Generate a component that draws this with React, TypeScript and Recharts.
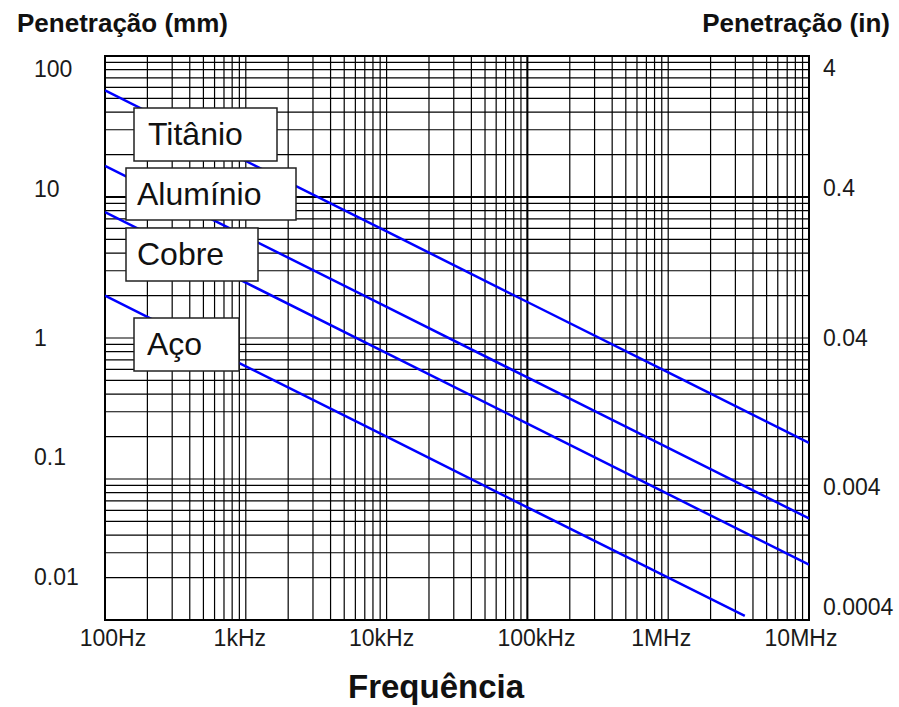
import React from "react";
import { LineChart, Line, XAxis, YAxis, CartesianGrid, ReferenceArea, ReferenceLine } from "recharts";

// depth of penetration (mm), per frequency (Hz)
const frequencies = [100, 1e3, 1e4, 1e5, 1e6, 1e7];
const titanio = [57, 18, 5.7, 1.8, 0.57, 0.18];
const aluminio = [16.6, 5.25, 1.66, 0.525, 0.166, 0.0525];
const cobre = [7.8, 2.47, 0.78, 0.247, 0.078, 0.0247];
// steel stops before 10MHz
const acoFrequencies = [100, 1e3, 1e4, 1e5, 1e6, 3.5e6];
const aco = [2.0, 0.63, 0.2, 0.063, 0.02, 0.0107];

const materials = ["Titânio", "Alumínio", "Cobre", "Aço"];

const xDecades = [100, 1e3, 1e4, 1e5, 1e6, 1e7];
const xTickLabels = ["100Hz", "1kHz", "10kHz", "100kHz", "1MHz", "10MHz"];
const mmDecades = [100, 10, 1, 0.1, 0.01];
const mmTickLabels = ["100", "10", "1", "0.1", "0.01"];
const inDecades = [4, 0.4, 0.04, 0.004, 0.0004];
const inTickLabels = ["4", "0.4", "0.04", "0.004", "0.0004"];

// layout tweaks (label offsets in px, as placed in the original figure)
const xNudge = [8, -6, -5, 9, -7, -8];
const mmNudge = [13, -8, 0, -22, -43];
const inNudge = [12, -9, 0, 8, -13];
const boxes = [
  { x: 134, y: 108, w: 143, h: 53, tx: 14 },
  { x: 126, y: 168, w: 170, h: 52, tx: 11 },
  { x: 126, y: 228, w: 132, h: 53, tx: 11 },
  { x: 134, y: 318, w: 105, h: 53, tx: 13 },
];

const FONT = '"Liberation Sans", Arial, Helvetica, sans-serif';
const TEXT = "#1a1a1a";
const BLUE = "#0000ff";
const GRID = "#000";

// log grid: 1..9 x 10^e for every decade
const logTicks = (from: number, to: number) => {
  const out: number[] = [];
  for (let e = from; e < to; e++) {
    for (let m = 1; m <= 9; m++) out.push(m * Math.pow(10, e));
  }
  out.push(Math.pow(10, to));
  return out;
};
const xTicks = logTicks(2, 7);
const mmTicks = logTicks(-2, 2);

const decadeIndex = (v: number, decades: number[]) =>
  decades.findIndex((d) => Math.abs(Math.log10(v) - Math.log10(d)) < 1e-6);

const toRows = (fs: number[], ds: number[]) => fs.map((f, i) => ({ f, d: ds[i] }));
const series = [
  toRows(frequencies, titanio),
  toRows(frequencies, aluminio),
  toRows(frequencies, cobre),
  toRows(acoFrequencies, aco),
];

const XTick = (props: any) => {
  const i = decadeIndex(props.payload.value, xDecades);
  if (i < 0) return <g />;
  return (
    <text x={props.x + xNudge[i]} y={646} textAnchor="middle" fontSize={23} fill={TEXT} fontFamily={FONT}>
      {xTickLabels[i]}
    </text>
  );
};

const MmTick = (props: any) => {
  const i = decadeIndex(props.payload.value, mmDecades);
  if (i < 0) return <g />;
  return (
    <text x={34} y={props.y + mmNudge[i] + 8} textAnchor="start" fontSize={23} fill={TEXT} fontFamily={FONT}>
      {mmTickLabels[i]}
    </text>
  );
};

const InTick = (props: any) => {
  const i = decadeIndex(props.payload.value, inDecades);
  if (i < 0) return <g />;
  return (
    <text x={823} y={props.y + inNudge[i] + 8} textAnchor="start" fontSize={23} fill={TEXT} fontFamily={FONT}>
      {inTickLabels[i]}
    </text>
  );
};

export default function App() {
  return (
    <div style={{ position: "absolute", left: 0, top: 0, width: 899, height: 707, background: "#fff", fontFamily: FONT }}>
      <LineChart width={899} height={707} margin={{ top: 56, right: 0, bottom: 57, left: 0 }}>
        <CartesianGrid stroke={GRID} strokeWidth={1.2} />
        <XAxis
          dataKey="f"
          type="number"
          scale="log"
          domain={[100, 1e7]}
          allowDataOverflow
          ticks={xTicks}
          interval={0}
          tick={(p: any) => <XTick {...p} />}
          tickLine={false}
          axisLine={false}
          height={30}
        />
        <YAxis
          type="number"
          scale="log"
          domain={[0.01, 100]}
          allowDataOverflow
          ticks={mmTicks}
          interval={0}
          tick={(p: any) => <MmTick {...p} />}
          tickLine={false}
          axisLine={false}
          width={105}
        />
        <YAxis
          yAxisId="in"
          orientation="right"
          type="number"
          scale="log"
          domain={[0.0004, 4]}
          allowDataOverflow
          ticks={inDecades}
          interval={0}
          tick={(p: any) => <InTick {...p} />}
          tickLine={false}
          axisLine={false}
          width={90}
        />
        <ReferenceLine x={1e5} stroke={GRID} strokeWidth={2} />
        <ReferenceLine y={10} stroke={GRID} strokeWidth={2} />
        <ReferenceArea x1={100} x2={1e7} y1={0.01} y2={100} fill="none" stroke={GRID} strokeWidth={2} />
        {series.map((rows, i) => (
          <Line
            key={materials[i]}
            data={rows}
            dataKey="d"
            name={materials[i]}
            type="linear"
            stroke={BLUE}
            strokeWidth={2.5}
            dot={false}
            activeDot={false}
            isAnimationActive={false}
          />
        ))}
      </LineChart>
      <svg width={899} height={707} style={{ position: "absolute", left: 0, top: 0, pointerEvents: "none" }}>
        <text x={17} y={32} fontSize={26} fontWeight="bold" fill="#111" fontFamily={FONT}>
          Penetração (mm)
        </text>
        <text x={890} y={32} textAnchor="end" fontSize={26} fontWeight="bold" fill="#111" fontFamily={FONT}>
          Penetração (in)
        </text>
        <text x={436} y={698} textAnchor="middle" fontSize={33} fontWeight="bold" fill="#111" fontFamily={FONT}>
          Frequência
        </text>
        {boxes.map((b, i) => (
          <g key={materials[i]}>
            <rect x={b.x} y={b.y} width={b.w} height={b.h} fill="#fff" stroke="#222" strokeWidth={1.5} />
            <text x={b.x + b.tx} y={b.y + 37} fontSize={32} fill="#111" fontFamily={FONT}>
              {materials[i]}
            </text>
          </g>
        ))}
      </svg>
    </div>
  );
}
